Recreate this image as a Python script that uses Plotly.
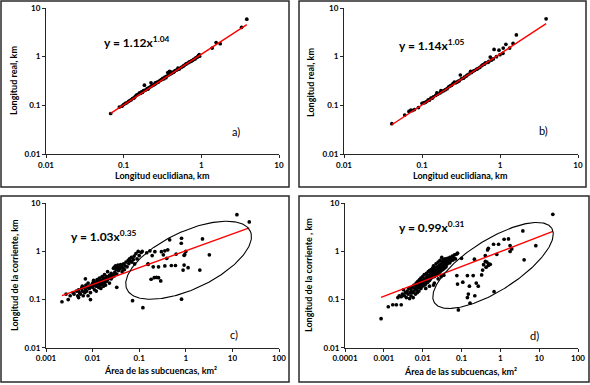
import numpy as np
import plotly.graph_objects as go

W, H = 590, 385

# ---------------- data ----------------
a_x = [0.068, 0.088, 0.095, 0.10, 0.105, 0.11, 0.115, 0.12, 0.125, 0.13, 0.135, 0.14, 0.145, 0.15,
       0.155, 0.16, 0.165, 0.17, 0.175, 0.18, 0.185, 0.19, 0.2, 0.205, 0.21, 0.22, 0.225, 0.23, 0.24,
       0.25, 0.255, 0.26, 0.27, 0.28, 0.29, 0.3, 0.31, 0.32, 0.33, 0.34, 0.35, 0.36, 0.37, 0.38, 0.39,
       0.4, 0.41, 0.42, 0.44, 0.45, 0.46, 0.48, 0.5, 0.5, 0.52, 0.55, 0.58, 0.6, 0.63, 0.65, 0.68, 0.7,
       0.73, 0.75, 0.78, 0.8, 0.83, 0.85, 0.88, 0.9, 0.92, 0.94, 0.95, 1.38, 1.55, 1.75, 3.3, 3.85]
a_y = [0.068, 0.092, 0.096, 0.104, 0.11, 0.113, 0.12, 0.125, 0.13, 0.138, 0.14, 0.15, 0.16, 0.165,
       0.17, 0.18, 0.175, 0.19, 0.185, 0.2, 0.26, 0.205, 0.22, 0.215, 0.23, 0.24, 0.29, 0.25, 0.26,
       0.27, 0.29, 0.28, 0.3, 0.3, 0.32, 0.33, 0.34, 0.36, 0.35, 0.38, 0.37, 0.4, 0.47, 0.42, 0.5,
       0.44, 0.48, 0.46, 0.48, 0.5, 0.52, 0.53, 0.55, 0.58, 0.56, 0.6, 0.63, 0.66, 0.7, 0.72, 0.75, 0.78,
       0.8, 0.82, 0.85, 0.88, 0.9, 0.95, 0.97, 1.0, 1.05, 1.1, 1.02, 1.5, 1.95, 1.85, 4.0, 5.9]

b_x = [0.041, 0.06, 0.068, 0.072, 0.075, 0.08, 0.09, 0.1, 0.105, 0.11, 0.115, 0.12, 0.125, 0.13,
       0.135, 0.14, 0.15, 0.155, 0.16, 0.17, 0.175, 0.18, 0.19, 0.2, 0.21, 0.22, 0.23, 0.24, 0.25,
       0.26, 0.27, 0.28, 0.29, 0.3, 0.31, 0.32, 0.34, 0.35, 0.37, 0.38, 0.4, 0.42, 0.43, 0.45, 0.47,
       0.5, 0.52, 0.55, 0.58, 0.6, 0.63, 0.65, 0.7, 0.72, 0.75, 0.78, 0.82, 0.84, 0.9, 0.97, 1.0,
       1.09, 1.1, 1.19, 1.33, 1.47, 1.62, 3.9]
b_y = [0.042, 0.063, 0.075, 0.08, 0.078, 0.082, 0.09, 0.11, 0.112, 0.115, 0.12, 0.13, 0.128, 0.14,
       0.14, 0.15, 0.16, 0.18, 0.17, 0.18, 0.2, 0.19, 0.2, 0.21, 0.22, 0.24, 0.25, 0.26, 0.28,
       0.3, 0.29, 0.3, 0.31, 0.32, 0.42, 0.35, 0.36, 0.38, 0.4, 0.42, 0.44, 0.5, 0.47, 0.5, 0.52,
       0.55, 0.57, 0.6, 0.65, 0.68, 0.7, 0.75, 0.76, 0.8, 0.98, 0.85, 0.9, 1.41, 1.0, 1.36, 1.1,
       1.17, 1.5, 1.79, 1.5, 1.87, 2.8, 6.0]

c_x = [0.0022, 0.0027, 0.003, 0.0033, 0.0038, 0.004, 0.0045, 0.0048, 0.005, 0.005, 0.0052, 0.0055,
       0.0058, 0.006, 0.006, 0.0063, 0.0065, 0.0068, 0.007, 0.007, 0.0072, 0.0075, 0.0078, 0.008,
       0.008, 0.0085, 0.0088, 0.009, 0.009, 0.0095, 0.01, 0.01, 0.0105, 0.011, 0.011, 0.0115, 0.012,
       0.012, 0.0125, 0.013, 0.013, 0.0135, 0.014, 0.014, 0.0145, 0.015, 0.015, 0.0155, 0.016, 0.016,
       0.0165, 0.017, 0.017, 0.0175, 0.018, 0.018, 0.0185, 0.019, 0.019, 0.02, 0.02, 0.021, 0.021,
       0.022, 0.023, 0.023, 0.024, 0.025, 0.025, 0.026, 0.027, 0.028, 0.029, 0.03, 0.03, 0.031, 0.032,
       0.033, 0.033, 0.034, 0.035, 0.036, 0.037, 0.038, 0.039, 0.04, 0.041, 0.042, 0.043, 0.045,
       0.046, 0.048, 0.05, 0.052, 0.055, 0.058, 0.06, 0.062, 0.065, 0.068, 0.07, 0.072, 0.075, 0.078,
       0.08, 0.085, 0.09, 0.095, 0.1, 0.11, 0.12, 0.116,
       0.145, 0.155, 0.17, 0.19, 0.217, 0.3, 0.355, 0.41, 0.33, 0.39, 0.155, 0.2, 0.26, 0.355, 0.49,
       0.6, 0.875, 0.92, 1.12, 2.0, 3.2, 2.28, 0.81, 0.8, 0.45, 0.18, 0.21, 0.235, 0.26, 0.29, 0.81,
       0.95, 0.92, 0.62, 1.0, 12.5, 23.0]
c_y = [0.09, 0.13, 0.10, 0.12, 0.14, 0.13, 0.15, 0.12, 0.16, 0.11, 0.14, 0.13,
       0.17, 0.15, 0.19, 0.12, 0.18, 0.14, 0.16, 0.27, 0.2, 0.15, 0.18, 0.12,
       0.22, 0.17, 0.19, 0.14, 0.10, 0.2, 0.18, 0.22, 0.25, 0.16, 0.2, 0.23, 0.19,
       0.15, 0.26, 0.21, 0.24, 0.18, 0.22, 0.28, 0.2, 0.25, 0.17, 0.23, 0.3, 0.21,
       0.26, 0.24, 0.19, 0.28, 0.22, 0.33, 0.25, 0.27, 0.2, 0.3, 0.24, 0.26, 0.38,
       0.28, 0.32, 0.22, 0.3, 0.35, 0.27, 0.29, 0.33, 0.45, 0.31, 0.48, 0.37, 0.5, 0.42,
       0.34, 0.18, 0.46, 0.52, 0.4, 0.48, 0.5, 0.44, 0.53, 0.47, 0.5, 0.38, 0.45,
       0.55, 0.42, 0.5, 0.6, 0.48, 0.65, 0.56, 0.7, 0.62, 0.75, 0.6, 0.095, 0.68, 0.8,
       0.55, 0.9, 0.7, 1.0, 0.82, 0.95, 0.068, 1.0,
       0.94, 0.55, 1.03, 0.82, 0.99, 0.99, 1.03, 1.08, 0.85, 0.72, 0.54, 0.48, 0.48, 0.5, 0.51,
       0.51, 0.41, 0.52, 0.46, 0.41, 0.85, 1.82, 1.88, 1.48, 1.74, 0.264, 0.285, 0.29, 0.285, 0.244, 0.102,
       0.86, 0.83, 0.88, 1.0, 5.8, 4.1]

d_x = [0.00085, 0.0013, 0.0017, 0.0021, 0.0028, 0.0023, 0.0025, 0.0028, 0.003, 0.0032, 0.0034,
       0.0036, 0.0038, 0.004, 0.0042, 0.0044, 0.0046, 0.0048, 0.005, 0.005, 0.0053, 0.0055, 0.0057,
       0.006, 0.006, 0.0063, 0.0065, 0.0068, 0.007, 0.007, 0.0073, 0.0075, 0.0078, 0.008, 0.008,
       0.0083, 0.0085, 0.0088, 0.009, 0.009, 0.0093, 0.0095, 0.0098, 0.01, 0.01, 0.0105, 0.011, 0.011,
       0.0115, 0.012, 0.012, 0.0125, 0.013, 0.013, 0.0135, 0.014, 0.014, 0.0145, 0.015, 0.015, 0.0155,
       0.016, 0.016, 0.0165, 0.017, 0.017, 0.0175, 0.018, 0.018, 0.0185, 0.019, 0.019, 0.0195, 0.02,
       0.02, 0.021, 0.021, 0.022, 0.022, 0.023, 0.023, 0.024, 0.024, 0.025, 0.025, 0.026, 0.026, 0.027,
       0.027, 0.028, 0.028, 0.029, 0.029, 0.03, 0.03, 0.031, 0.031, 0.032, 0.032, 0.033, 0.033, 0.034,
       0.034, 0.035, 0.035, 0.036, 0.037, 0.037, 0.038, 0.038, 0.039, 0.04, 0.04, 0.042, 0.042, 0.044,
       0.044, 0.046, 0.048, 0.05, 0.05, 0.053, 0.055, 0.058, 0.06, 0.063, 0.066, 0.07, 0.075, 0.079,
       0.02, 0.025, 0.03, 0.015, 0.012, 0.035,
       0.1, 0.215, 0.41, 0.49, 0.47, 0.67, 0.9, 1.25, 1.62, 1.78, 1.97, 1.78, 3.8, 8.2, 4.1, 0.41,
       0.37, 0.49, 0.55, 0.35, 0.33, 0.076, 0.142, 0.2, 0.079, 0.108, 0.16, 0.24, 0.27, 0.15, 0.142,
       0.22, 0.69, 0.166, 0.083, 0.43, 0.81, 0.5, 0.45, 22.5]
d_y = [0.04, 0.071, 0.078, 0.078, 0.078, 0.11, 0.12, 0.115, 0.13, 0.16, 0.12,
       0.14, 0.11, 0.15, 0.13, 0.17, 0.105, 0.14, 0.16, 0.12, 0.18, 0.14, 0.11,
       0.2, 0.15, 0.17, 0.13, 0.22, 0.16, 0.19, 0.14, 0.24, 0.18, 0.21, 0.15,
       0.26, 0.19, 0.23, 0.17, 0.28, 0.21, 0.25, 0.19, 0.3, 0.22, 0.26, 0.2, 0.33,
       0.24, 0.28, 0.21, 0.35, 0.26, 0.3, 0.23, 0.38, 0.28, 0.32, 0.25, 0.4, 0.3,
       0.34, 0.27, 0.42, 0.31, 0.36, 0.29, 0.45, 0.33, 0.38, 0.2, 0.5, 0.35, 0.4,
       0.3, 0.46, 0.34, 0.55, 0.38, 0.42, 0.32, 0.48, 0.36, 0.6, 0.4, 0.45, 0.35, 0.52,
       0.42, 0.65, 0.38, 0.48, 0.44, 0.55, 0.4, 0.75, 0.5, 0.45, 0.6, 0.52, 0.42, 0.68,
       0.48, 0.58, 0.44, 0.5, 0.62, 0.46, 0.7, 0.52, 0.56, 0.6, 0.48, 0.66, 0.54, 0.72,
       0.58, 0.62, 0.68, 0.75, 0.58, 0.64, 0.7, 0.8, 0.66, 0.74, 0.85, 0.7, 0.88, 0.92,
       0.22, 0.27, 0.3, 0.19, 0.17, 0.32,
       0.72, 0.69, 0.82, 1.16, 1.07, 1.41, 1.41, 1.79, 1.82, 1.32, 1.13, 1.0, 2.67, 1.32, 0.67, 0.62,
       0.53, 0.51, 0.54, 0.41, 0.325, 0.315, 0.315, 0.315, 0.21, 0.23, 0.19, 0.22, 0.19, 0.13, 0.11,
       0.12, 0.146, 0.084, 0.061, 0.47, 0.87, 0.55, 0.6, 5.9]

# power-law fits: coefficient, exponent
fit_a = [1.12, 1.04]
fit_b = [1.14, 1.05]
fit_c = [1.03, 0.35]
fit_d = [0.99, 0.31]

eq_a = "y = 1.12x<sup>1.04</sup>"
eq_b = "y = 1.14x<sup>1.05</sup>"
eq_c = "y = 1.03x<sup>0.35</sup>"
eq_d = "y = 0.99x<sup>0.31</sup>"

xt_ab = [0.01, 0.1, 1, 10]
xt_ab_lbl = ["0.01", "0.1", "1", "10"]
xt_c = [0.001, 0.01, 0.1, 1, 10, 100]
xt_c_lbl = ["0.001", "0.01", "0.1", "1", "10", "100"]
xt_d = [0.0001, 0.001, 0.01, 0.1, 1, 10, 100]
xt_d_lbl = ["0.0001", "0.001", "0.01", "0.1", "1", "10", "100"]
yt = [0.01, 0.1, 1, 10]
yt_lbl = ["0.01", "0.1", "1", "10"]

title_x_ab = "Longitud euclidiana, km"
title_y_ab = "Longitud real, km"
title_x_cd = "Área de las subcuencas, km²"
title_y_c = "Longitud de la corriente, km"
title_y_d = "Longitud de la corriente , km"

# ---------------- layout geometry (pixels) ----------------
FONT = "Lato"
AX = "#262626"

panels = [
    dict(sfx="", x=a_x, y=a_y, fit=fit_a, eq=eq_a, xt=xt_ab, xl=xt_ab_lbl, xr=[-2, 1],
         box=(46, 8, 279, 154), border=(1, 1, 289, 187), eqpos=(102, 42),
         xtitle=title_x_ab, xtpos=(162.5, 176), ytitle=title_y_ab, ytpos=(14, 81),
         tag="a)", tagpos=(236, 131), ell=None),
    dict(sfx="2", x=b_x, y=b_y, fit=fit_b, eq=eq_b, xt=xt_ab, xl=xt_ab_lbl, xr=[-2, 1],
         box=(344, 8, 578, 154), border=(299, 1, 586, 187), eqpos=(397, 45),
         xtitle=title_x_ab, xtpos=(460, 176), ytitle=title_y_ab, ytpos=(311, 83),
         tag="b)", tagpos=(543, 130), ell=None),
    dict(sfx="3", x=c_x, y=c_y, fit=fit_c, eq=eq_c, xt=xt_c, xl=xt_c_lbl, xr=[-3, 2],
         box=(46, 203.3, 279, 347.7), border=(1, 196, 289, 382), eqpos=(69, 236),
         xtitle=title_x_cd, xtpos=(161, 370.5), ytitle=title_y_c, ytpos=(14, 275),
         tag="c)", tagpos=(234, 334), ell=(0.06, -0.183, 68.2, 28.7, 25.3)),
    dict(sfx="4", x=d_x, y=d_y, fit=fit_d, eq=eq_d, xt=xt_d, xl=xt_d_lbl, xr=[-4, 2],
         box=(345, 203.3, 578, 347.7), border=(299, 196, 589, 382), eqpos=(397, 227),
         xtitle=title_x_cd, xtpos=(460, 371.5), ytitle=title_y_d, ytpos=(308, 275),
         tag="d)", tagpos=(534, 335), ell=(-0.188, -0.291, 69.5, 25.5, 32.4)),
]


def px(x):
    return x / W


def py(y):
    return 1 - y / H


fig = go.Figure()
shapes, annotations = [], []
layout = {}

for p in panels:
    s = p["sfx"]
    xa, ya = "x" + s, "y" + s
    l, t, r, b = p["box"]
    # points
    fig.add_trace(go.Scatter(x=p["x"], y=p["y"], mode="markers", xaxis=xa, yaxis=ya,
                             marker=dict(size=3.7, color="black", line=dict(width=0)),
                             showlegend=False, hoverinfo="skip"))
    # trend line from fitted coefficients over the data extent
    xs = np.logspace(np.log10(min(p["x"])), np.log10(max(p["x"])), 40)
    ys = p["fit"][0] * xs ** p["fit"][1]
    fig.add_trace(go.Scatter(x=xs, y=ys, mode="lines", xaxis=xa, yaxis=ya,
                             line=dict(color="#ff0000", width=1.4),
                             showlegend=False, hoverinfo="skip"))
    # ellipse around sub-basins
    if p["ell"] is not None:
        cx, cy, ea, eb, ang = p["ell"]
        sx = (r - l) / (p["xr"][1] - p["xr"][0])
        sy = (b - t) / 3.0
        tt = np.linspace(0, 2 * np.pi, 241)
        th = np.radians(ang)
        dx = ea * np.cos(tt) * np.cos(th) - eb * np.sin(tt) * np.sin(th)
        dy = ea * np.cos(tt) * np.sin(th) + eb * np.sin(tt) * np.cos(th)
        fig.add_trace(go.Scatter(x=10 ** (cx + dx / sx), y=10 ** (cy + dy / sy), mode="lines",
                                 xaxis=xa, yaxis=ya, line=dict(color="black", width=1.1),
                                 showlegend=False, hoverinfo="skip"))
    axcommon = dict(type="log", showgrid=False, zeroline=False, showline=True, linecolor=AX,
                    linewidth=1, ticks="outside", ticklen=3, tickwidth=1, tickcolor=AX,
                    tickfont=dict(family=FONT, size=8, color="black", weight="bold"),
                    tickmode="array", fixedrange=True, automargin=False)
    layout["xaxis" + s] = dict(axcommon, domain=[px(l), px(r)], range=p["xr"], anchor=ya,
                               tickvals=p["xt"], ticktext=p["xl"])
    layout["yaxis" + s] = dict(axcommon, domain=[py(b), py(t)], range=[-2, 1], anchor=xa,
                               tickvals=yt, ticktext=yt_lbl)
    # panel border
    bl, bt, br, bb = p["border"]
    shapes.append(dict(type="rect", xref="paper", yref="paper", x0=px(bl), x1=px(br),
                       y0=py(bb), y1=py(bt), line=dict(color="#2a2a2a", width=1.5)))
    # texts
    annotations.append(dict(text=p["eq"], xref="paper", yref="paper", x=px(p["eqpos"][0]),
                            y=py(p["eqpos"][1]), xanchor="left", yanchor="middle", showarrow=False,
                            font=dict(family=FONT, size=12, color="black", weight="bold")))
    annotations.append(dict(text=p["xtitle"], xref="paper", yref="paper", x=px(p["xtpos"][0]),
                            y=py(p["xtpos"][1]), xanchor="center", yanchor="middle", showarrow=False,
                            font=dict(family=FONT, size=9, color="black", weight="bold")))
    annotations.append(dict(text=p["ytitle"], xref="paper", yref="paper", x=px(p["ytpos"][0]),
                            y=py(p["ytpos"][1]), xanchor="center", yanchor="middle", showarrow=False,
                            textangle=-90,
                            font=dict(family=FONT, size=9, color="black", weight="bold")))
    annotations.append(dict(text=p["tag"], xref="paper", yref="paper", x=px(p["tagpos"][0]),
                            y=py(p["tagpos"][1]), xanchor="center", yanchor="middle", showarrow=False,
                            font=dict(family=FONT, size=11, color="black")))

fig.update_layout(width=W, height=H, margin=dict(l=0, r=0, t=0, b=0, pad=0, autoexpand=False),
                  paper_bgcolor="white", plot_bgcolor="white", showlegend=False,
                  shapes=shapes, annotations=annotations, **layout)

fig.write_html("out.html", config={"displayModeBar": False, "responsive": False},
               post_script="document.body.style.margin='0px';document.body.style.overflow='hidden';")
